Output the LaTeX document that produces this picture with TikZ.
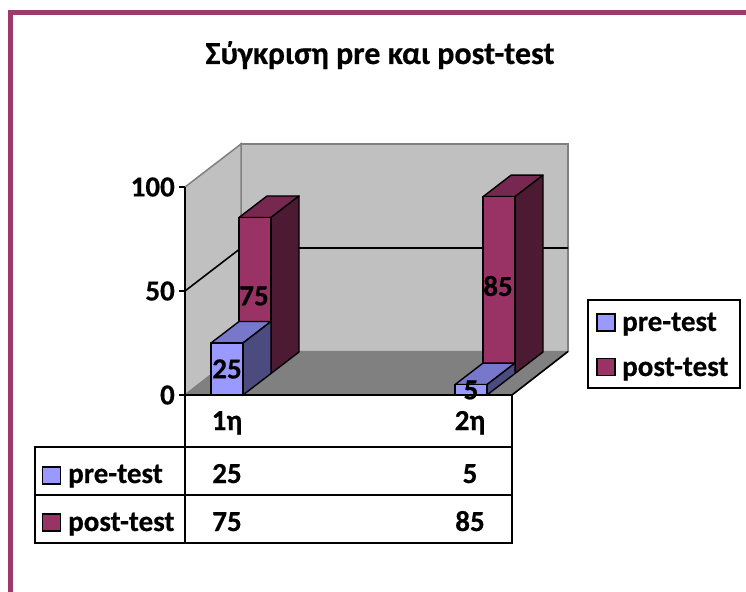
\documentclass[tikz,border=0pt]{standalone}
\usepackage{fontspec}
\setmainfont{Carlito}[BoldFeatures={FakeBold=0.5}]
\definecolor{frameC}{HTML}{9E3A6B}
\definecolor{wallC}{HTML}{C0C0C0}
\definecolor{wallEdge}{HTML}{808080}
\definecolor{floorC}{HTML}{808080}
\definecolor{preF}{HTML}{9999FF}
\definecolor{preT}{HTML}{7777CC}
\definecolor{preS}{HTML}{4B4B80}
\definecolor{postF}{HTML}{993366}
\definecolor{postT}{HTML}{772850}
\definecolor{postS}{HTML}{4D1A33}
\tikzset{
  txt/.style={font=\fontsize{29bp}{33bp}\selectfont\bfseries, inner sep=0pt},
  num/.style={font=\fontsize{29bp}{33bp}\selectfont\bfseries, inner sep=0pt},
  ttl/.style={font=\fontsize{32bp}{36bp}\selectfont\bfseries, inner sep=0pt},
  baredge/.style={draw=black, line width=1.4bp, line join=round},
  tableline/.style={draw=black, line width=1.6bp},
  legsq/.style={draw=black, line width=1.4bp, minimum width=18bp, minimum height=17bp, inner sep=0pt},
  walledge/.style={draw=wallEdge, line width=1.5bp}
}
\newcommand\mybar[7]{%
  \filldraw[baredge,fill=#6] (#1,#4) -- (#2,#4) -- (#2+28,#4-21.5) -- (#1+28,#4-21.5) -- cycle;
  \filldraw[baredge,fill=#7] (#2,#3) -- (#2,#4) -- (#2+28,#4-21.5) -- (#2+28,#3-21.5) -- cycle;
  \filldraw[baredge,fill=#5] (#1,#3) rectangle (#2,#4);
}
\begin{document}
\begin{tikzpicture}[x=1bp,y=-1bp]
\useasboundingbox (0,0) rectangle (746,592);
\fill[white] (0,0) rectangle (746,592);
% frame
\begin{scope}
\clip (0,0) rectangle (746,592);
\draw[frameC, line width=5bp] (10,12.5) rectangle (770,594);
\end{scope}
% title
\node[ttl, anchor=base] (title) at (380,64) {Σύγκριση pre και post-test};
% walls
\filldraw[fill=wallC, walledge] (241,144) rectangle (568,351.5);
\filldraw[fill=wallC, walledge] (185,395) -- (185,187) -- (241,144) -- (241,351.5) -- cycle;
\filldraw[fill=floorC, draw=wallEdge, line width=1.2bp] (185,395) -- (512,395) -- (568,351.5) -- (241,351.5) -- cycle;
\draw[black, line width=1.6bp] (512,395) -- (568,351.5);
% gridline 50
\draw[black, line width=1.6bp] (185,291) -- (241,248) -- (568,248);
% bars
\mybar{239}{271}{373.5}{217.5}{postF}{postT}{postS}
\mybar{483}{515}{373.5}{196.7}{postF}{postT}{postS}
\mybar{211}{243}{395}{343}{preF}{preT}{preS}
\mybar{455}{487}{395}{384.6}{preF}{preT}{preS}
% data labels
\node[num] (l25) at (227,369) {25};
\node[num] (l75) at (254,296) {75};
\node[num] (l85) at (498,286) {85};
\node[num] (l5) at (471,390) {5};
% axis
\coordinate (axTop) at (185,187);
\coordinate (axBot) at (185,543);
\draw[tableline] (axTop) -- (axBot);
\foreach \yy/\lab in {187/100, 291/50, 395/0}{
  \draw[black, line width=1.4bp] (179,\yy) -- (185,\yy);
  \node[num, anchor=east] at (175,\yy) {\lab};
}
% table
\draw[tableline] (185,395) -- (512,395) -- (512,543) -- (35,543) -- (35,447) -- (512,447);
\draw[tableline] (35,495) -- (512,495);
\node[num, anchor=base] (c1) at (227,430) {1η};
\node[num, anchor=base] (c2) at (470,430) {2η};
\node[legsq, fill=preF] (tsq1) at (51.5,475.5) {};
\node[legsq, fill=postF] (tsq2) at (51.5,522.5) {};
\node[txt, anchor=base west] (tpre) at (68,483) {pre-test};
\node[txt, anchor=base west] (tpost) at (68,531) {post-test};
\node[num, anchor=base] (v1) at (227,483) {25};
\node[num, anchor=base] (v2) at (470,483) {5};
\node[num, anchor=base] (v3) at (227,531) {75};
\node[num, anchor=base] (v4) at (470,531) {85};
% legend
\draw[black, line width=1.6bp] (588,300) rectangle (740,388);
\node[legsq, fill=preF] (lsq1) at (606,322.5) {};
\node[legsq, fill=postF] (lsq2) at (606,367) {};
\node[txt, anchor=base west] (lpre) at (622,331) {pre-test};
\node[txt, anchor=base west] (lpost) at (622,376) {post-test};
\end{tikzpicture}
\end{document}
